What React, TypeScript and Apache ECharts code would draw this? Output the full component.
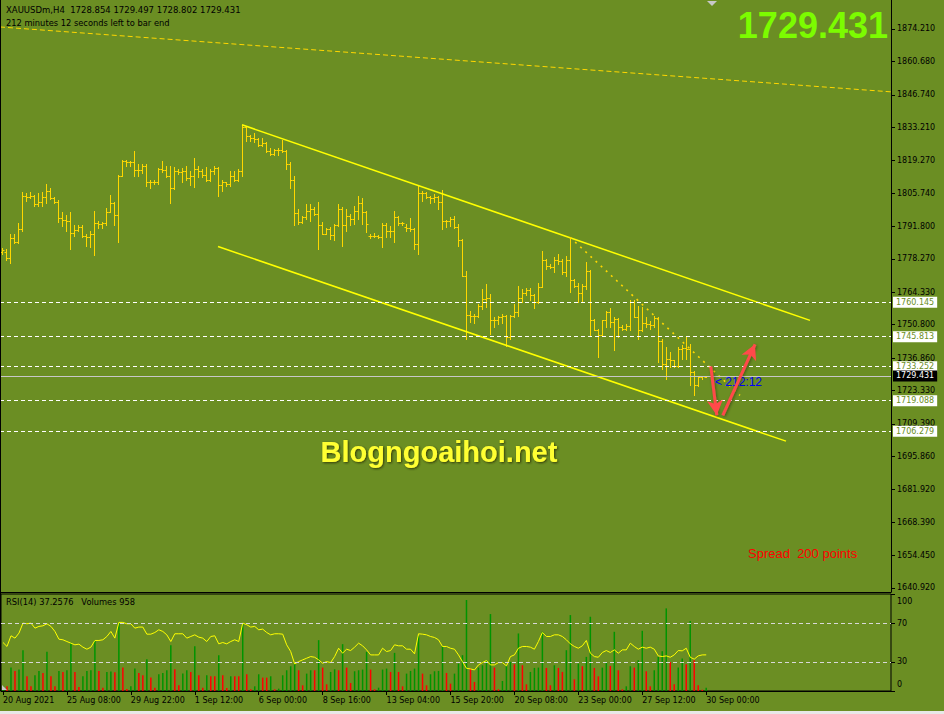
import React, { useEffect, useRef } from 'react';
import * as echarts from 'echarts';

// ---------------- DATA ----------------
const opens = [
  1781.2, 1781.3, 1778.5, 1787.0, 1785.2, 1790.8, 1804.7, 1804.0, 1804.7, 1801.1,
  1801.9, 1804.0, 1806.7, 1803.5, 1802.2, 1795.2, 1794.6, 1794.1, 1789.1, 1790.5,
  1791.6, 1787.7, 1787.2, 1788.7, 1793.3, 1792.9, 1793.3, 1798.0, 1801.6, 1796.6,
  1813.0, 1819.2, 1818.5, 1818.8, 1815.5, 1815.5, 1817.1, 1810.2, 1810.5, 1810.2,
  1815.7, 1815.5, 1813.0, 1807.8, 1815.1, 1814.6, 1815.1, 1811.9, 1812.7, 1815.7,
  1815.1, 1813.2, 1811.3, 1815.1, 1816.0, 1809.1, 1810.2, 1809.5, 1813.0, 1811.3,
  1815.1, 1833.5, 1829.4, 1828.5, 1828.2, 1825.8, 1826.6, 1823.4, 1822.0, 1823.8,
  1823.8, 1823.4, 1817.8, 1811.3, 1797.4, 1793.5, 1795.6, 1798.4, 1799.1, 1797.0,
  1792.2, 1788.7, 1790.7, 1788.2, 1792.4, 1799.1, 1792.4, 1796.3, 1794.9, 1798.4,
  1801.6, 1798.0, 1788.0, 1787.6, 1788.0, 1787.3, 1792.4, 1790.1, 1790.1, 1795.6,
  1793.3, 1791.4, 1791.0, 1790.7, 1784.5, 1805.8, 1805.8, 1804.0, 1803.5, 1804.0,
  1801.9, 1794.2, 1793.9, 1794.9, 1791.5, 1786.2, 1771.3, 1754.9, 1754.6, 1754.6,
  1758.4, 1761.6, 1762.0, 1752.8, 1752.8, 1754.2, 1754.6, 1745.6, 1754.6, 1756.0,
  1762.0, 1764.0, 1765.3, 1763.0, 1760.2, 1766.7, 1777.6, 1775.1, 1774.8, 1777.8,
  1777.3, 1772.7, 1777.8, 1769.5, 1767.1, 1764.0, 1767.1, 1773.4, 1752.6, 1748.7,
  1746.3, 1752.6, 1756.0, 1751.9, 1753.3, 1749.8, 1749.1, 1750.1, 1760.2, 1754.2,
  1748.4, 1751.5, 1750.9, 1750.5, 1753.7, 1744.2, 1734.5, 1736.6, 1735.9, 1733.4,
  1740.8, 1741.2, 1740.8, 1731.0, 1725.5, 1729.0, 1728.854,
];
const highs = [
  1782.7, 1782.4, 1788.7, 1788.7, 1793.3, 1806.3, 1805.6, 1806.3, 1805.0, 1805.6,
  1806.0, 1809.5, 1807.7, 1804.2, 1803.0, 1797.7, 1796.6, 1798.0, 1792.2, 1792.4,
  1792.4, 1788.7, 1790.1, 1798.4, 1794.2, 1793.5, 1799.4, 1804.9, 1801.9, 1813.3,
  1819.5, 1819.6, 1819.2, 1823.4, 1817.8, 1817.8, 1817.9, 1811.3, 1811.2, 1816.0,
  1819.2, 1817.1, 1816.9, 1816.4, 1815.7, 1816.0, 1817.1, 1815.1, 1820.2, 1816.9,
  1815.7, 1816.4, 1815.7, 1817.1, 1816.4, 1811.2, 1810.5, 1815.1, 1815.1, 1815.7,
  1834.1, 1833.6, 1829.9, 1830.8, 1828.5, 1828.5, 1826.9, 1824.4, 1824.1, 1824.4,
  1828.0, 1823.9, 1818.5, 1813.0, 1799.1, 1796.0, 1801.2, 1801.2, 1799.8, 1802.1,
  1793.5, 1791.0, 1791.4, 1792.8, 1801.2, 1799.8, 1799.1, 1797.0, 1800.2, 1804.4,
  1803.5, 1798.3, 1788.7, 1789.1, 1788.3, 1793.1, 1793.2, 1791.9, 1798.4, 1796.0,
  1793.8, 1792.8, 1795.2, 1791.0, 1808.8, 1806.7, 1806.0, 1804.6, 1805.3, 1804.3,
  1807.0, 1794.5, 1795.9, 1796.3, 1792.8, 1786.6, 1773.4, 1756.7, 1755.3, 1759.5,
  1765.8, 1767.6, 1763.7, 1754.0, 1754.6, 1755.3, 1755.0, 1755.0, 1759.5, 1767.1,
  1765.8, 1766.2, 1766.2, 1763.7, 1768.1, 1781.7, 1778.2, 1776.2, 1779.2, 1780.3,
  1778.2, 1779.6, 1787.3, 1769.9, 1768.1, 1767.8, 1776.9, 1773.7, 1753.3, 1749.0,
  1752.8, 1756.7, 1757.8, 1754.2, 1753.7, 1750.5, 1750.9, 1760.9, 1760.9, 1758.8,
  1758.1, 1754.2, 1752.3, 1754.6, 1754.0, 1744.9, 1741.5, 1739.4, 1736.2, 1741.5,
  1742.2, 1745.6, 1742.8, 1731.4, 1729.0, 1729.5, 1729.497,
];
const lows = [
  1780.2, 1777.6, 1776.6, 1784.8, 1784.9, 1789.7, 1802.6, 1803.5, 1800.5, 1800.5,
  1800.5, 1801.6, 1803.3, 1801.6, 1793.5, 1791.9, 1790.1, 1782.4, 1788.0, 1789.7,
  1787.3, 1783.6, 1783.1, 1779.7, 1791.1, 1791.1, 1792.4, 1797.7, 1792.2, 1785.2,
  1812.7, 1816.9, 1817.1, 1813.0, 1812.7, 1814.1, 1808.8, 1807.7, 1809.5, 1809.5,
  1814.4, 1812.3, 1801.6, 1807.5, 1813.7, 1810.2, 1811.3, 1809.1, 1808.1, 1812.3,
  1812.3, 1810.9, 1810.6, 1813.7, 1804.6, 1806.7, 1808.8, 1808.8, 1810.6, 1810.9,
  1813.0, 1827.6, 1827.6, 1826.9, 1825.2, 1825.5, 1822.7, 1821.6, 1821.8, 1821.6,
  1822.7, 1815.7, 1808.0, 1792.2, 1792.8, 1793.3, 1794.9, 1794.2, 1796.6, 1782.4,
  1788.5, 1788.5, 1786.6, 1786.3, 1791.8, 1783.5, 1790.1, 1792.4, 1792.8, 1794.9,
  1792.8, 1789.4, 1786.9, 1787.3, 1786.9, 1783.1, 1787.3, 1787.3, 1785.2, 1792.4,
  1792.2, 1790.1, 1790.1, 1782.2, 1780.4, 1802.6, 1803.5, 1801.6, 1801.9, 1799.1,
  1790.8, 1791.5, 1792.1, 1791.2, 1783.8, 1771.0, 1744.9, 1751.9, 1751.5, 1754.0,
  1757.4, 1758.1, 1747.0, 1749.8, 1751.2, 1751.5, 1742.1, 1744.9, 1754.0, 1754.6,
  1760.2, 1763.0, 1760.9, 1757.8, 1759.9, 1766.4, 1774.1, 1774.5, 1772.7, 1776.2,
  1772.0, 1771.3, 1764.4, 1766.4, 1760.2, 1760.2, 1765.8, 1746.3, 1748.4, 1737.3,
  1746.0, 1749.8, 1749.8, 1740.1, 1745.6, 1748.4, 1748.4, 1748.4, 1754.0, 1744.9,
  1748.0, 1749.8, 1749.1, 1749.8, 1735.2, 1732.4, 1728.3, 1733.1, 1733.1, 1733.1,
  1736.6, 1736.6, 1725.5, 1721.3, 1725.2, 1728.3, 1728.802,
];
const closes = [
  1782.0, 1778.5, 1787.0, 1785.2, 1790.8, 1804.7, 1804.0, 1804.7, 1801.1, 1801.9,
  1804.0, 1806.7, 1803.5, 1802.2, 1795.2, 1794.6, 1794.1, 1789.1, 1790.5, 1791.6,
  1787.7, 1787.2, 1788.7, 1793.3, 1792.9, 1793.3, 1798.0, 1801.6, 1796.6, 1813.0,
  1819.2, 1818.5, 1818.8, 1815.5, 1815.5, 1817.1, 1810.2, 1810.5, 1810.2, 1815.7,
  1815.5, 1813.0, 1807.8, 1815.1, 1814.6, 1815.1, 1811.9, 1812.7, 1815.7, 1815.1,
  1813.2, 1811.3, 1815.1, 1816.0, 1809.1, 1810.2, 1809.5, 1813.0, 1811.3, 1815.1,
  1833.5, 1829.4, 1828.5, 1828.2, 1825.8, 1826.6, 1823.4, 1822.0, 1823.8, 1823.8,
  1823.4, 1817.8, 1811.3, 1797.4, 1793.5, 1795.6, 1798.4, 1799.1, 1797.0, 1792.2,
  1788.7, 1790.7, 1788.2, 1792.4, 1799.1, 1792.4, 1796.3, 1794.9, 1798.4, 1801.6,
  1798.0, 1792.8, 1787.6, 1788.0, 1787.3, 1792.4, 1790.1, 1790.1, 1795.6, 1793.3,
  1793.3, 1791.0, 1790.7, 1784.5, 1805.8, 1805.8, 1804.0, 1803.5, 1804.0, 1801.9,
  1794.2, 1793.9, 1794.9, 1791.5, 1786.2, 1771.3, 1754.9, 1754.6, 1754.6, 1758.4,
  1761.6, 1762.0, 1752.8, 1752.8, 1754.2, 1754.6, 1745.6, 1754.6, 1756.0, 1762.0,
  1764.0, 1765.3, 1763.0, 1760.2, 1766.7, 1777.6, 1775.1, 1774.8, 1777.8, 1777.3,
  1772.7, 1777.8, 1769.5, 1767.1, 1764.0, 1767.1, 1773.4, 1752.6, 1748.7, 1746.3,
  1752.6, 1756.0, 1751.9, 1753.3, 1749.8, 1749.1, 1750.1, 1760.2, 1754.2, 1748.4,
  1751.5, 1750.9, 1750.5, 1753.7, 1744.2, 1734.5, 1736.6, 1735.9, 1733.4, 1740.8,
  1741.2, 1740.8, 1731.0, 1725.5, 1729.0, 1729.2, 1729.431,
];
const volumes = [
  1400, 1400, 7000, 6000, 6400, 12200, 4400, 1400, 4700, 6000,
  5400, 11700, 4400, 1400, 6000, 5700, 6200, 14400, 5700, 1200,
  4400, 6000, 6200, 15200, 6000, 1000, 5700, 5800, 5600, 20400,
  7000, 600, 1400, 6700, 5400, 4700, 9500, 4000, 1000, 5000,
  5400, 6200, 13700, 6500, 1700, 5200, 6200, 5700, 13400, 4700,
  1000, 4700, 4400, 4400, 10700, 4700, 900, 4400, 4400, 4400,
  20200, 5000, 500, 1400, 5000, 4000, 4000, 4400, 500, 700,
  4700, 6200, 7400, 8400, 6200, 1700, 5200, 6200, 6200, 15200,
  7000, 2000, 5700, 6500, 6200, 14000, 7000, 2400, 5900, 6200,
  6400, 11700, 6400, 500, 1000, 6400, 6700, 5700, 11400, 5700,
  1400, 5200, 6000, 6700, 16400, 5200, 1700, 5000, 5900, 6000,
  13400, 5400, 2200, 5200, 8200, 10700, 27200, 6700, 2700, 7000,
  7700, 9000, 23000, 7000, 500, 3000, 7700, 8700, 8000, 17200,
  7700, 2000, 5700, 6900, 7000, 17700, 6900, 1700, 7700, 6900,
  5700, 12200, 22700, 3500, 8200, 7400, 10200, 22200, 6900, 4400,
  7000, 8400, 7500, 17700, 6200, 500, 1400, 7400, 7000, 9200,
  18000, 5900, 1400, 6200, 10200, 11900, 24700, 8700, 2000, 7000,
  9700, 8000, 20900, 9200, 1700, 400, 958,
];
const rsi = [
  50.0, 45.9, 56.9, 54.5, 59.7, 70.0, 69.3, 70.0, 64.8, 66.6,
  67.2, 69.3, 66.6, 61.4, 53.4, 52.8, 51.0, 49.3, 47.6, 48.3,
  45.2, 43.1, 45.2, 52.1, 52.1, 52.8, 56.2, 61.4, 54.5, 70.7,
  70.7, 69.3, 69.3, 64.8, 65.9, 65.9, 58.6, 58.6, 60.3, 63.1,
  61.4, 57.9, 51.0, 59.0, 59.0, 59.0, 54.5, 56.2, 57.9, 55.5,
  54.5, 51.0, 56.2, 56.9, 48.6, 50.0, 48.6, 51.0, 52.8, 51.0,
  70.0, 68.3, 65.9, 66.6, 63.1, 63.8, 60.3, 57.9, 59.0, 59.0,
  58.6, 47.6, 40.7, 27.9, 30.3, 32.1, 33.8, 35.5, 34.8, 32.1,
  28.6, 30.3, 29.3, 35.5, 44.1, 39.0, 43.1, 41.7, 45.2, 49.3,
  46.6, 42.4, 37.2, 37.2, 37.2, 44.1, 40.7, 41.7, 47.6, 46.6,
  46.6, 43.1, 43.1, 38.3, 59.0, 58.6, 57.9, 56.2, 55.2, 52.8,
  45.9, 45.9, 44.1, 43.1, 37.2, 30.3, 23.4, 22.8, 21.7, 26.9,
  29.3, 31.4, 26.9, 26.9, 29.3, 29.3, 25.9, 35.5, 37.2, 44.1,
  45.9, 45.9, 45.2, 43.1, 51.0, 60.3, 56.2, 56.2, 57.9, 57.9,
  56.2, 52.8, 48.6, 45.9, 44.1, 46.6, 52.1, 39.0, 35.5, 34.8,
  39.7, 41.7, 39.7, 42.4, 39.0, 42.4, 42.4, 49.3, 45.9, 43.1,
  45.2, 44.1, 45.2, 43.1, 36.2, 35.5, 36.2, 34.8, 37.2, 41.7,
  41.4, 44.1, 34.8, 32.8, 36.2, 37.2, 37.2576,
];
const timeLabels = [
  '20 Aug 2021', '25 Aug 08:00', '29 Aug 22:00', '1 Sep 12:00', '6 Sep 00:00', '8 Sep 16:00',
  '13 Sep 04:00', '15 Sep 20:00', '20 Sep 08:00', '23 Sep 00:00', '27 Sep 12:00', '30 Sep 00:00',
];
const timeLabelStep = 16;
const priceTicks = [
  1874.21, 1860.68, 1846.74, 1833.21, 1819.27, 1805.74, 1791.8, 1778.27, 1764.33,
  1750.8, 1736.86, 1723.33, 1709.39, 1695.86, 1681.92, 1668.39, 1654.45, 1640.92,
];
const rsiTicks = [0, 30, 70, 100];
const rsiLevels = [30, 70];
const levelPrices = [1760.145, 1745.813, 1733.252, 1719.088, 1706.279];
const currentPrice = 1729.431;
// trend lines: [barIndex, price]
const upperChannel = [[60, 1834.2], [202, 1752.6]];
const lowerChannel = [[54, 1783.4], [196, 1702.2]];
const longTrend = [[-0.5, 1875.04], [222.25, 1847.96]];
const dottedTrend = [[142, 1787.3], [184.5, 1721.3]];
const arrowDown = [[177.2, 1733.4], [178.7, 1713.0]];
const arrowUp = [[180.2, 1713.0], [188.25, 1742.6]];
const countdownAt = [178.25, 1726.9];

// ---------------- STYLE ----------------
const BG = '#6B8E23';
const BAR = '#FFD700';
const FONT = 'DejaVu Sans';
const VOL_UP = '#009400';
const VOL_DOWN = '#FF0000';

export default function App() {
  const ref = useRef<HTMLDivElement>(null);
  useEffect(() => {
    document.body.style.margin = '0';
    const chart = echarts.init(ref.current!, null, { renderer: 'svg' });
    const ohlcData = opens.map((o, i) => [i, o, highs[i], lows[i], closes[i]]);
    const timeTicks = timeLabels.map((_, i) => i * timeLabelStep);
    const fmt3 = (v: number) => v.toFixed(3);

    const levelLabel = (p: number, bg: string, fg: string) => ({
      show: true, position: 'end', distance: 2, formatter: () => fmt3(p),
      backgroundColor: bg, color: fg, fontSize: 8, fontFamily: FONT, padding: [2, 3, 1, 3],
    });

    const volumeData = volumes.map((v, i) => ({
      value: [i, v],
      itemStyle: { color: i === 0 || v > volumes[i - 1] ? VOL_UP : VOL_DOWN },
    }));

    const option: any = {
      animation: false,
      backgroundColor: BG,
      grid: [
        { left: 0, top: -1, width: 891, height: 593, show: false },
        { left: 0, top: 594, width: 891, height: 97, show: true, borderColor: '#000', borderWidth: 1, backgroundColor: 'transparent' },
      ],
      xAxis: [
        {
          type: 'value', gridIndex: 0, min: -0.5, max: 222.25,
          axisLine: { show: true, onZero: false, lineStyle: { color: '#000', width: 1 } },
          axisTick: { show: false }, axisLabel: { show: false }, splitLine: { show: false },
        },
        {
          type: 'value', gridIndex: 1, min: -0.5, max: 222.25,
          axisLine: { show: true, onZero: false, lineStyle: { color: '#000', width: 1 } },
          axisTick: { show: true, customValues: timeTicks, length: 4, lineStyle: { color: '#000' } },
          axisLabel: {
            show: true, customValues: timeTicks, align: 'left', margin: 5,
            color: '#000', fontSize: 8, fontFamily: FONT,
            formatter: (v: number) => timeLabels[Math.round(v / timeLabelStep)] ?? '',
          },
          splitLine: { show: false },
        },
      ],
      yAxis: [
        {
          type: 'value', gridIndex: 0, position: 'right', min: 1639.25, max: 1886.29,
          axisLine: { show: true, onZero: false, lineStyle: { color: '#000', width: 1 } },
          axisTick: { show: true, inside: false, customValues: priceTicks, length: 4, lineStyle: { color: '#000' } },
          axisLabel: {
            show: true, customValues: priceTicks, margin: 6, color: '#000', fontSize: 8, fontFamily: FONT,
            formatter: (v: number) => fmt3(v),
          },
          splitLine: { show: false },
        },
        {
          type: 'value', gridIndex: 1, position: 'right', min: 0, max: 100,
          axisLine: { show: false, onZero: false },
          axisTick: { show: true, inside: false, customValues: rsiTicks, length: 4, lineStyle: { color: '#000' } },
          axisLabel: {
            show: true, customValues: rsiTicks, margin: 6, color: '#000', fontSize: 8, fontFamily: FONT,
            formatter: (v: number) => (v === 100 ? '{t|100}' : v === 0 ? '{b|0}' : String(v)),
            rich: {
              t: { padding: [14, 0, 0, 0], fontSize: 8, fontFamily: FONT, color: '#000' },
              b: { padding: [0, 0, 14, 0], fontSize: 8, fontFamily: FONT, color: '#000' },
            },
          },
          splitLine: { show: false },
        },
        {
          type: 'value', gridIndex: 1, min: 0, max: 29000, show: false,
          axisLine: { show: false, onZero: false }, axisTick: { show: false }, axisLabel: { show: false },
          splitLine: { show: false },
        },
      ],
      series: [
        {
          type: 'custom', name: 'ohlc', xAxisIndex: 0, yAxisIndex: 0, z: 3,
          data: ohlcData, encode: { x: 0, y: [1, 2, 3, 4] },
          renderItem: (params: any, api: any) => {
            const k = api.value(0);
            const o = api.coord([k, api.value(1)]);
            const h = api.coord([k, api.value(2)]);
            const l = api.coord([k, api.value(3)]);
            const c = api.coord([k, api.value(4)]);
            const x = Math.round(h[0]) + 0.5;
            const yo = Math.round(o[1]) + 0.5;
            const yc = Math.round(c[1]) + 0.5;
            const st = { stroke: BAR, lineWidth: 1 };
            return {
              type: 'group',
              children: [
                { type: 'line', shape: { x1: x, y1: Math.round(h[1]), x2: x, y2: Math.round(l[1]) + 1 }, style: st },
                { type: 'line', shape: { x1: x - 2, y1: yo, x2: x, y2: yo }, style: st },
                { type: 'line', shape: { x1: x, y1: yc, x2: x + 2, y2: yc }, style: st },
              ],
            };
          },
        },
        {
          type: 'line', name: 'upper', xAxisIndex: 0, yAxisIndex: 0, data: upperChannel, symbol: 'none', z: 4,
          lineStyle: { color: '#FFFF00', width: 1.5 },
          markLine: {
            silent: true, symbol: ['none', 'none'], z: 5,
            data: [
              ...levelPrices.map((p) => ({
                yAxis: p,
                lineStyle: { color: '#FFFFFF', type: [4, 3], width: 1 },
                label: levelLabel(p, '#FFFFFF', BG),
              })),
              {
                yAxis: currentPrice,
                lineStyle: { color: '#C8C8C8', type: 'solid', width: 1 },
                label: levelLabel(currentPrice, '#000000', '#FFFFFF'),
              },
            ],
          },
        },
        {
          type: 'line', name: 'lower', xAxisIndex: 0, yAxisIndex: 0, data: lowerChannel, symbol: 'none', z: 4,
          lineStyle: { color: '#FFFF00', width: 1.5 },
        },
        {
          type: 'line', name: 'long', xAxisIndex: 0, yAxisIndex: 0, data: longTrend, symbol: 'none', z: 4,
          lineStyle: { color: '#FFD700', width: 1, type: [5, 3] },
        },
        {
          type: 'line', name: 'dotted', xAxisIndex: 0, yAxisIndex: 0, data: dottedTrend, symbol: 'none', z: 4,
          lineStyle: { color: '#FFD700', width: 1.6, type: [2, 5] },
          markPoint: {
            silent: true, symbol: 'circle', symbolSize: 0,
            data: [{
              coord: countdownAt,
              label: {
                show: true, position: 'right', distance: 0, formatter: '< 212:12',
                color: '#0000FF', fontSize: 12, fontFamily: 'Liberation Sans',
              },
            }],
          },
        },
        {
          type: 'line', name: 'arrows', xAxisIndex: 0, yAxisIndex: 0, data: [], symbol: 'none', z: 8,
          markLine: {
            silent: true, symbol: ['none', 'arrow'], symbolSize: [12, 15], z: 8,
            label: { show: false },
            lineStyle: {
              color: '#FF4A4A', width: 3, type: 'solid',
              shadowColor: 'rgba(0,0,0,0.4)', shadowBlur: 3, shadowOffsetX: 1, shadowOffsetY: 1,
            },
            data: [
              [{ coord: arrowDown[0] }, { coord: arrowDown[1] }],
              [{ coord: arrowUp[0] }, { coord: arrowUp[1] }],
            ],
          },
        },
        {
          type: 'bar', name: 'volume', xAxisIndex: 1, yAxisIndex: 2, z: 3,
          barWidth: 1.5, large: false, data: volumeData,
        },
        {
          type: 'line', name: 'rsi', xAxisIndex: 1, yAxisIndex: 1, z: 4,
          data: rsi.map((v, i) => [i, v]), symbol: 'none',
          lineStyle: { color: '#FFFF00', width: 1 },
          markLine: {
            silent: true, symbol: ['none', 'none'], label: { show: false },
            lineStyle: { color: '#D8D8D8', type: [4, 3], width: 1 },
            data: rsiLevels.map((v) => ({ yAxis: v })),
          },
        },
      ],
      graphic: [
        { type: 'line', shape: { x1: 0.5, y1: 0, x2: 0.5, y2: 691 }, style: { stroke: '#000', lineWidth: 1 }, z: 10 },
        { type: 'polygon', shape: { points: [[707, 1], [717, 1], [712, 6]] }, style: { fill: '#C8C8C8' }, z: 10 },
        { type: 'polygon', shape: { points: [[2, 690], [7, 690], [2, 685]] }, style: { fill: '#C8C8C8' }, z: 10 },
        { type: 'rect', shape: { x: 0, y: 711, width: 944, height: 3 }, style: { fill: '#E8E8E8' }, z: 10 },
        {
          type: 'text', x: 6, y: 10, z: 10,
          style: { text: 'XAUUSDm,H4  1728.854 1729.497 1728.802 1729.431', fill: '#000', fontSize: 8.5, fontFamily: FONT, verticalAlign: 'middle' },
        },
        {
          type: 'text', x: 6, y: 23, z: 10,
          style: { text: '212 minutes 12 seconds left to bar end', fill: '#000', fontSize: 8.3, fontFamily: FONT, verticalAlign: 'middle' },
        },
        {
          type: 'text', x: 6, y: 602, z: 10,
          style: { text: 'RSI(14) 37.2576   Volumes 958', fill: '#000', fontSize: 8.3, fontFamily: FONT, verticalAlign: 'middle' },
        },
        {
          type: 'text', x: 888, y: 25, z: 10,
          style: {
            text: '1729.431', fill: '#7CFC00', fontSize: 36, fontWeight: 'bold', fontFamily: 'Liberation Sans',
            align: 'right', verticalAlign: 'middle',
          },
        },
        {
          type: 'text', x: 439, y: 452, z: 10,
          style: {
            text: 'Blogngoaihoi.net', fill: '#FFFF33', fontSize: 29, fontWeight: 'bold', fontFamily: 'Liberation Sans',
            align: 'center', verticalAlign: 'middle',
            textShadowColor: 'rgba(40,40,0,0.8)', textShadowBlur: 2, textShadowOffsetX: 1, textShadowOffsetY: 1,
          },
        },
        {
          type: 'text', x: 748, y: 553, z: 10,
          style: { text: 'Spread  200 points', fill: '#FF0000', fontSize: 13, fontFamily: 'Liberation Sans', verticalAlign: 'middle' },
        },
      ],
    };
    chart.setOption(option);
    return () => chart.dispose();
  }, []);
  return <div ref={ref} style={{ width: 944, height: 714 }} />;
}
